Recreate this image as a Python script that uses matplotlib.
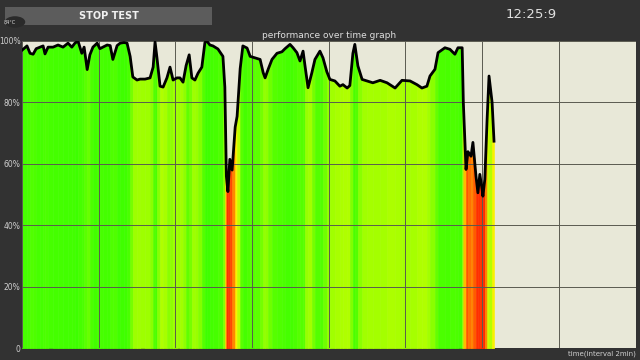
import numpy as np
import matplotlib
matplotlib.use("Agg")
import matplotlib.pyplot as plt
from matplotlib.colors import LinearSegmentedColormap, Normalize
from matplotlib.patches import Rectangle, Circle

# performance samples (time in minutes, performance in %)
time_min = [0.00, 0.13, 0.21, 0.29, 0.37, 0.47, 0.55, 0.60, 0.68, 0.81,
            0.94, 1.07, 1.20, 1.30, 1.38, 1.46, 1.56, 1.62, 1.70, 1.77,
            1.85, 1.96, 2.03, 2.11, 2.22, 2.30, 2.37, 2.48, 2.56, 2.66,
            2.74, 2.82, 2.89, 3.00, 3.08, 3.21, 3.34, 3.42, 3.47, 3.52,
            3.60, 3.68, 3.78, 3.86, 3.94, 4.04, 4.12, 4.20, 4.28, 4.36,
            4.43, 4.51, 4.59, 4.69, 4.77, 4.82, 4.90, 4.98, 5.11, 5.24,
            5.29, 5.33, 5.37, 5.42, 5.48, 5.56, 5.61, 5.69, 5.76, 5.87,
            5.95, 6.08, 6.21, 6.29, 6.34, 6.42, 6.52, 6.65, 6.78, 6.86,
            6.99, 7.07, 7.17, 7.25, 7.33, 7.38, 7.46, 7.56, 7.64, 7.77,
            7.85, 7.95, 8.03, 8.16, 8.29, 8.37, 8.48, 8.55, 8.63, 8.68,
            8.76, 8.87, 9.00, 9.15, 9.34, 9.52, 9.73, 9.91, 10.12, 10.30,
            10.43, 10.56, 10.64, 10.77, 10.85, 11.03, 11.16, 11.29, 11.37, 11.48,
            11.51, 11.58, 11.63, 11.71, 11.76, 11.84, 11.89, 11.94, 12.00, 12.02,
            12.07, 12.13, 12.18, 12.26, 12.31]
perf = [97, 98.4, 96, 95.7, 97.5, 98, 98.4, 95.8, 98, 98,
        98.7, 98, 99.3, 98, 99.3, 100, 96, 98, 90.7, 95.5,
        98, 99.3, 97.5, 98, 98.7, 98.5, 94, 98.5, 99.3, 99.5,
        99.3, 95, 88.3, 87.3, 87.6, 87.6, 88, 91.5, 99.7, 94.5,
        85.3, 85, 88, 91.5, 87.3, 88, 88, 86.6, 92, 95.5,
        88, 87.3, 89.5, 91.5, 99.5, 100, 98.7, 98.4, 97.4, 95,
        85, 56, 51, 61.5, 58, 72, 75.5, 91, 98.4, 97.7,
        95, 94.5, 94, 89.7, 88, 90.8, 94, 96, 96.5, 97.5,
        98.9, 97.8, 96.2, 93.5, 96.7, 92, 84.8, 89.7, 94, 96.7,
        94.5, 90, 87.5, 87, 85.3, 85.8, 84.7, 85.5, 96, 98.9,
        91.9, 87.5, 87, 86.4, 87.2, 86.4, 84.7, 87.2, 87, 85.8,
        84.7, 85.3, 88.6, 90.8, 96.2, 97.8, 97.3, 95.7, 97.8, 97.8,
        79.9, 58.2, 64, 62.5, 67, 56, 50.6, 56.6, 51.7, 49.5,
        55, 74.5, 88.6, 80, 67.4]

y_ticks = [0, 20, 40, 60, 80, 100]
y_labels = ["0", "20%", "40%", "60%", "80%", "100%"]
x_grid = [0, 2, 4, 6, 8, 10, 12, 14, 16]

bg = "#323232"
plot_bg = "#e8e8d8"

cmap = LinearSegmentedColormap.from_list(
    "perf",
    [(0.0, "#ff2200"), (0.2, "#ff4a00"), (0.3, "#ff8800"), (0.46, "#ffee00"),
     (0.62, "#ccff00"), (0.76, "#9cff00"), (0.9, "#55ff00"), (1.0, "#3cff00")])
norm = Normalize(vmin=50, vmax=100)

fig = plt.figure(figsize=(6.4, 3.6), dpi=100)
fig.patch.set_facecolor(bg)
ax = fig.add_axes([22 / 640, 1 - 348.3 / 360, 613.5 / 640, 307.3 / 360])
ax.set_facecolor(plot_bg)

t = np.array(time_min)
p = np.array(perf)
for i in range(len(t) - 1):
    c = cmap(norm((p[i] + p[i + 1]) / 2))
    ax.fill_between(t[i:i + 2], p[i:i + 2], 0, color=c, edgecolor=c, linewidth=0.4)

for x in x_grid:
    ax.axvline(x, color="#5a5a50", linewidth=0.7, zorder=3)
for y in y_ticks:
    ax.axhline(y, color="#5a5a50", linewidth=0.7, zorder=3)

ax.plot(t, p, color="black", linewidth=2.0, solid_joinstyle="round", zorder=4)

ax.set_xlim(0, 16)
ax.set_ylim(0, 100)
ax.set_xticks([])
ax.set_yticks(y_ticks)
ax.set_yticklabels(y_labels)
ax.tick_params(axis="y", length=0, pad=1, labelsize=5.5, labelcolor="#cfcfcf")
for s in ax.spines.values():
    s.set_visible(False)

# header widgets
fig.patches.append(Rectangle((5 / 640, 1 - 25 / 360), 207 / 640, 18 / 360,
                             transform=fig.transFigure, facecolor="#5c5c5c",
                             edgecolor="none"))
fig.text(109 / 640, 1 - 16 / 360, "STOP TEST", color="#f0f0f0", fontsize=7,
         fontweight="bold", ha="center", va="center")
fig.patches.append(Circle((15 / 640, 1 - 22 / 360), 0.016, transform=fig.transFigure,
                          facecolor="#2a2a2a", edgecolor="none"))
fig.text(10 / 640, 1 - 22 / 360, "84°C", color="#e0e0e0", fontsize=3.5,
         ha="center", va="center")
fig.text(531 / 640, 1 - 15 / 360, "12:25:9", color="#e0e0e0", fontsize=9.5,
         ha="center", va="center")
fig.text(329 / 640, 1 - 35 / 360, "performance over time graph", color="#dddddd",
         fontsize=6.5, ha="center", va="center")
fig.text(636 / 640, 1 - 354 / 360, "time(interval 2min)", color="#cfcfcf",
         fontsize=5, ha="right", va="center")

fig.savefig("out.png", dpi=100, facecolor=bg)
